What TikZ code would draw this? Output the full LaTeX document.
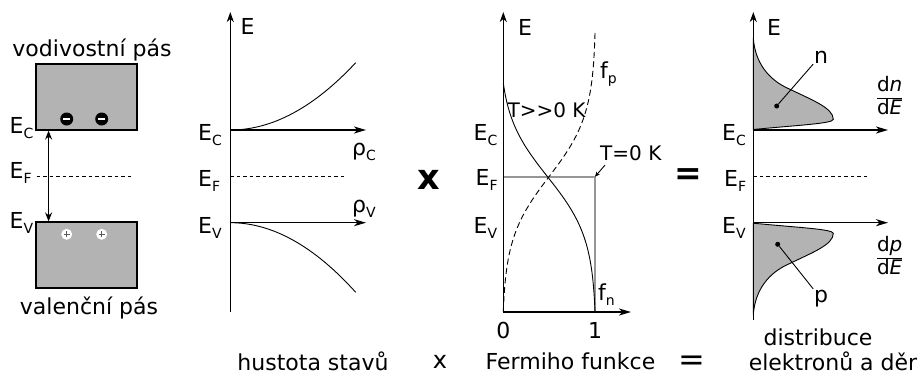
\documentclass[tikz,border=0pt]{standalone}
\usepackage{fontspec}
\setmainfont{DejaVu Sans}
\usetikzlibrary{arrows.meta}
\definecolor{bandgray}{RGB}{179,179,179}
\definecolor{linegray}{RGB}{150,150,150}
\definecolor{plusgray}{RGB}{90,90,90}
\newcommand\mysub[1]{\raisebox{-5pt}{\fontsize{14}{14}\selectfont #1}}
\begin{document}
\begin{tikzpicture}[x=1pt,y=-1pt,
  txt/.style={inner sep=0pt, font=\fontsize{22}{26}\selectfont},
  smalltxt/.style={inner sep=0pt, font=\fontsize{20}{24}\selectfont},
  axis/.style={line width=1.5pt, -{Stealth[length=10pt,width=7pt,inset=3pt]}},
  harrow/.style={line width=1.5pt, -{Stealth[length=12pt,width=7pt,inset=3.5pt]}},
  curve/.style={line width=0.9pt},
  dashline/.style={line width=0.8pt, dash pattern=on 3.5pt off 3pt},
  band/.style={draw, line width=1.2pt, fill=bandgray, inner sep=0pt},
  dotnode/.style={circle, fill=black, inner sep=0pt, minimum size=5pt},
  frac/.style={inner sep=0pt, font=\fontsize{20}{22}\selectfont},
]
\useasboundingbox (0,0) rectangle (921,388);

% ---------- left panel: bands ----------
\node[band, minimum width=101pt, minimum height=66pt] (cb) at (86.4,97) {};
\node[band, minimum width=101pt, minimum height=66pt] (vb) at (86.4,255) {};
\node[circle, fill=black, minimum size=13pt, inner sep=0pt] (e1) at (66.7,119) {};
\node[circle, fill=black, minimum size=13pt, inner sep=0pt] (e2) at (101.7,119) {};
\draw[white, line width=2pt] ([xshift=-3.3pt]e1.center) -- ([xshift=3.3pt]e1.center);
\draw[white, line width=2pt] ([xshift=-3.3pt]e2.center) -- ([xshift=3.3pt]e2.center);
\node[circle, fill=white, minimum size=11pt, inner sep=0pt] (h1) at (66.7,234.3) {};
\node[circle, fill=white, minimum size=11pt, inner sep=0pt] (h2) at (101.7,234.3) {};
\draw[plusgray, line width=1.1pt] ([xshift=-3pt]h1.center) -- ([xshift=3pt]h1.center)
  ([yshift=-3pt]h1.center) -- ([yshift=3pt]h1.center);
\draw[plusgray, line width=1.1pt] ([xshift=-3pt]h2.center) -- ([xshift=3pt]h2.center)
  ([yshift=-3pt]h2.center) -- ([yshift=3pt]h2.center);
\draw[line width=1pt, {Stealth[length=9pt,width=7pt,inset=3pt]}-{Stealth[length=9pt,width=7pt,inset=3pt]}]
  ([xshift=13.3pt]cb.south west) -- ([xshift=13.3pt]vb.north west);
\node[txt, anchor=base west] (lec) at (9.5,133.3) {E\mysub{C}};
\node[txt, anchor=base west] (lef) at (9.5,178.3) {E\mysub{F}};
\node[txt, anchor=base west] (lev) at (9.5,228.3) {E\mysub{V}};
\draw[dashline] (36.7,176.7) -- (133,176.7);
\node[txt, anchor=base] (vod) at (92,56) {vodivostní pás};
\node[txt, anchor=base] (val) at (89,314) {valenční pás};

% ---------- panel 2: density of states ----------
\coordinate (o2) at (230.3,312);
\coordinate (t2) at (230.3,12);
\coordinate (c2) at (230.3,130);
\coordinate (c2e) at (366,130);
\coordinate (v2) at (230.3,222.7);
\coordinate (v2e) at (366,222.7);
\draw[axis] (o2) -- (t2);
\draw[harrow] (c2) -- (c2e);
\draw[harrow] (v2) -- (v2e);
\draw[dashline] (230.3,176.5) -- (345,176.5);
\draw[curve] (c2) .. controls (272.1,130) and (313.9,107.6) .. (355.7,62.7);
\draw[curve] (v2) .. controls (272.1,222.7) and (313.9,245.9) .. (355.7,292.3);
\node[txt] (E2) at (247.5,26) {E};
\node[txt, anchor=base west] (l2c) at (198,140) {E\mysub{C}};
\node[txt, anchor=base west] (l2f) at (198,186.5) {E\mysub{F}};
\node[txt, anchor=base west] (l2v) at (198,233) {E\mysub{V}};
\node[txt, anchor=base west] (rc) at (352,155) {ρ\mysub{C}};
\node[txt, anchor=base west] (rv) at (352,212) {ρ\mysub{V}};
\node[txt, anchor=base] (cap1) at (313,370) {hustota stavů};

% ---------- operator x ----------
\node[inner sep=0pt, font=\fontsize{35}{35}\selectfont\bfseries] (times) at (428.3,180.3) {x};
\node[inner sep=0pt, font=\fontsize{24}{24}\selectfont] (capx) at (440,361.7) {x};

% ---------- panel 3: Fermi function ----------
\coordinate (o3) at (503.3,312);
\coordinate (t3) at (503.3,12);
\coordinate (r3) at (631,312);
\coordinate (ef3) at (503.3,176.7);
\coordinate (corner) at (595,176.7);
\coordinate (one3) at (595,312);
\draw[linegray, line width=1.6pt] (ef3) -- (corner) -- (one3);
\draw[curve] plot[domain=83:312, samples=140, variable=\t]
  ({503.3+97.45*(1/(1+exp((176.7-\t)/31))-0.0464)}, \t);
\draw[curve, dash pattern=on 6pt off 3.5pt] plot[domain=33:312, samples=140, variable=\t]
  ({503.3+93.78*(1/(1+exp((\t-176.7)/31))-0.01256)}, \t);
\draw[axis] (o3) -- (t3);
\draw[harrow] (o3) -- (r3);
\node[txt] (E3) at (525,27) {E};
\node[txt] (z0) at (503.3,330) {0};
\node[txt] (z1) at (595,330) {1};
\node[txt, anchor=base west] (l3c) at (473.5,140) {E\mysub{C}};
\node[txt, anchor=base west] (l3f) at (475.5,185.5) {E\mysub{F}};
\node[txt, anchor=base west] (l3v) at (473.5,233) {E\mysub{V}};
\node[txt, anchor=base west] (fp) at (600,78) {f\mysub{p}};
\node[txt, anchor=base west] (fn) at (598,300) {f\mysub{n}};
\node[smalltxt] (thi) at (546.5,110.5) {T>{}>0 K};
\node[smalltxt] (t0) at (630.8,153.3) {T=0 K};
\draw[line width=0.9pt, -{Stealth[length=5pt,width=4.5pt]}]
  ([xshift=5pt,yshift=-4pt]t0.south west) -- (corner);
\node[txt, anchor=base] (cap2) at (570.5,369) {Fermiho funkce};

% ---------- operator = ----------
\node[inner sep=0pt, font=\fontsize{33}{33}\selectfont\bfseries, anchor=base] (eq) at (688.3,184.5) {=};
\node[inner sep=0pt, font=\fontsize{32}{32}\selectfont, anchor=base] (capeq) at (692,370) {=};

% ---------- panel 4: carrier distribution ----------
\coordinate (o4) at (753.3,320);
\coordinate (t4) at (753.3,12);
\coordinate (c4) at (753.3,130);
\coordinate (c4e) at (888,130);
\coordinate (v4) at (753.3,222.7);
\coordinate (v4e) at (888,222.7);
\draw[curve, fill=bandgray] (753.3,38) .. controls (755,62) and (768,80) .. (790,89.3)
  .. controls (812,100) and (833.3,108) .. (833.3,119.3)
  .. controls (833.3,123.5) and (800,125) .. (753.3,129.5) -- cycle;
\draw[curve, fill=bandgray] (753.3,314.7) .. controls (755,290.7) and (768,272.7) .. (790,263.4)
  .. controls (812,252.7) and (833.3,244.7) .. (833.3,233.4)
  .. controls (833.3,229.2) and (800,227.7) .. (753.3,223.2) -- cycle;
\draw[axis] (o4) -- (t4);
\draw[harrow] (c4) -- (c4e);
\draw[harrow] (v4) -- (v4e);
\draw[dashline] (753.3,176.5) -- (870,176.5);
\node[txt] (E4) at (774,27) {E};
\node[txt, anchor=base west] (l4c) at (722,140) {E\mysub{C}};
\node[txt, anchor=base west] (l4f) at (724,186.5) {E\mysub{F}};
\node[txt, anchor=base west] (l4v) at (722,233.3) {E\mysub{V}};
\node[dotnode] (dn) at (776.7,106) {};
\node[dotnode] (dp) at (777.7,244.3) {};
\node[txt] (nl) at (821,57) {n};
\node[txt] (pl) at (821,298.3) {p};
\draw[curve, shorten >=1pt] (dn) -- (nl.south west);
\draw[curve, shorten >=1pt] (dp) -- (pl.north west);
\node[frac] (dndE) at (889.7,98.3) {\setlength{\arrayrulewidth}{1.2pt}\begin{tabular}{@{}c@{}}d\textit{n}\\\hline d\textit{E}\end{tabular}};
\node[frac] (dpdE) at (889.7,258.3) {\setlength{\arrayrulewidth}{1.2pt}\begin{tabular}{@{}c@{}}d\textit{p}\\\hline d\textit{E}\end{tabular}};
\node[txt, anchor=base] (cap3a) at (818,345) {distribuce};
\node[txt, anchor=base] (cap3b) at (833,370.7) {elektronů a děr};
\end{tikzpicture}
\end{document}
